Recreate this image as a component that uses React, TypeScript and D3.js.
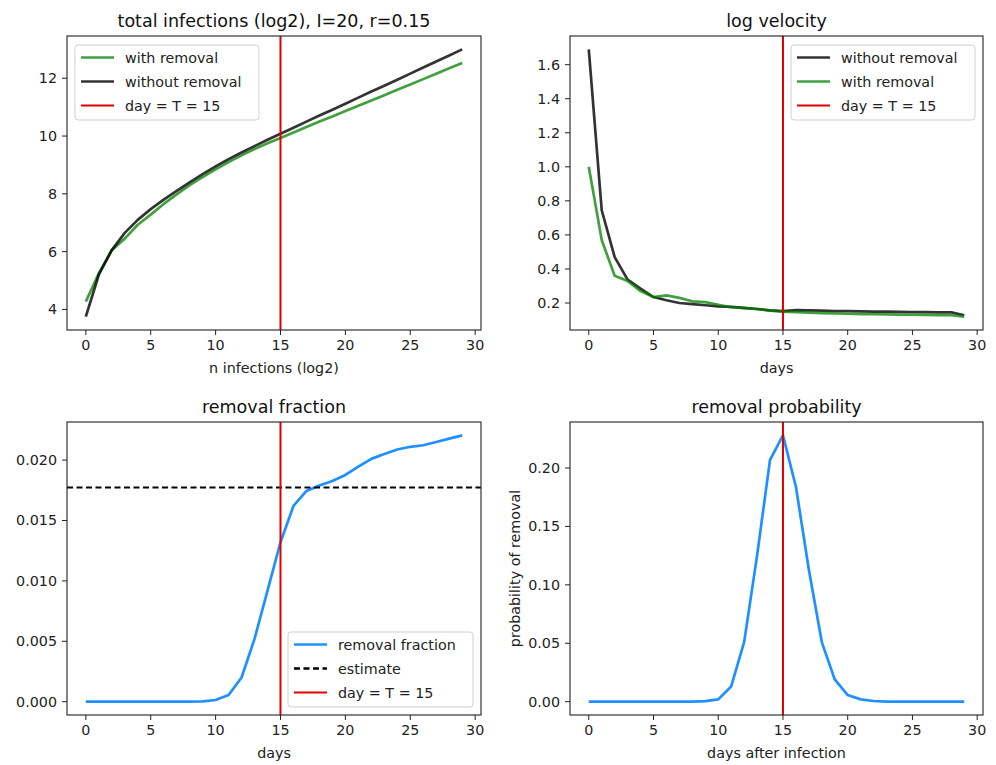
import React from "react";
import * as d3 from "d3";

const days = d3.range(0, 30);

const totalWith = [4.27, 5.25, 6.05, 6.45, 6.93, 7.28, 7.65, 7.98, 8.3, 8.58, 8.85, 9.1, 9.33, 9.55, 9.75, 9.93, 10.12, 10.31, 10.5, 10.68, 10.87, 11.05, 11.23, 11.41, 11.6, 11.78, 11.97, 12.16, 12.35, 12.53];
const totalWithout = [3.75, 5.2, 6.05, 6.65, 7.1, 7.47, 7.8, 8.1, 8.4, 8.68, 8.95, 9.2, 9.43, 9.65, 9.87, 10.08, 10.29, 10.5, 10.71, 10.91, 11.12, 11.33, 11.54, 11.74, 11.95, 12.16, 12.37, 12.58, 12.79, 13.0];

const velWithout = [1.69, 0.745, 0.47, 0.337, 0.284, 0.235, 0.216, 0.2, 0.193, 0.187, 0.18, 0.177, 0.172, 0.165, 0.157, 0.152, 0.158, 0.157, 0.155, 0.153, 0.152, 0.151, 0.15, 0.149, 0.148, 0.147, 0.146, 0.145, 0.145, 0.128];
const velWith = [1.0, 0.57, 0.36, 0.33, 0.27, 0.235, 0.245, 0.23, 0.21, 0.205, 0.19, 0.175, 0.17, 0.165, 0.155, 0.15, 0.146, 0.143, 0.141, 0.139, 0.137, 0.135, 0.134, 0.133, 0.132, 0.131, 0.13, 0.129, 0.128, 0.12];

const removalFraction = [0, 0, 0, 0, 0, 0, 0, 0, 0, 0.00003, 0.00014, 0.00055, 0.002, 0.0052, 0.0092, 0.0132, 0.0162, 0.01745, 0.0179, 0.01827, 0.01877, 0.01945, 0.0201, 0.0205, 0.02088, 0.0211, 0.02123, 0.0215, 0.02178, 0.02205];
const estimate = 0.01773;

const removalProb = [0, 0, 0, 0, 0, 0, 0, 0, 0, 0.0005, 0.002, 0.013, 0.051, 0.125, 0.207, 0.228, 0.184, 0.113, 0.051, 0.019, 0.0057, 0.002, 0.0006, 0, 0, 0, 0, 0, 0, 0];

const T = 15;
const xTicks = [0, 5, 10, 15, 20, 25, 30];
const ticksTL = [4, 6, 8, 10, 12];
const ticksTR = [0.2, 0.4, 0.6, 0.8, 1.0, 1.2, 1.4, 1.6];
const ticksBL = [0, 0.005, 0.01, 0.015, 0.02];
const ticksBR = [0, 0.05, 0.1, 0.15, 0.2];

const FONT = "DejaVu Sans, sans-serif";
const GREEN = "rgba(0,128,0,0.75)";
const BLACK = "rgba(0,0,0,0.8)";
const BLUE = "#1E90FF";
const RED = "#E00000";

type Series = { values: number[]; color: string; label: string; dash?: string; hline?: number };
type PanelProps = {
  x0: number; x1: number; y0: number; y1: number;
  title: string; xlabel: string; ylabel?: string;
  yTicks: number[]; yFmt: (v: number) => string;
  series: Series[];
  legend: { x: number; y: number; w: number; items: Series[] };
};

function withMargin(lo: number, hi: number): [number, number] {
  const m = (hi - lo) * 0.05;
  return [lo - m, hi + m];
}

function Panel(p: PanelProps) {
  const x = d3.scaleLinear().domain(withMargin(0, 29)).range([p.x0, p.x1]);
  const all = p.series.filter((s) => s.hline === undefined).flatMap((s) => s.values);
  const y = d3.scaleLinear().domain(withMargin(d3.min(all) as number, d3.max(all) as number)).range([p.y1, p.y0]);
  const line = d3.line<number>().x((_, i) => x(days[i])).y((v) => y(v));
  const clipId = `clip-${p.x0}-${p.y0}`;
  const fs = 14.3;
  return (
    <g>
      <defs>
        <clipPath id={clipId}>
          <rect x={p.x0} y={p.y0} width={p.x1 - p.x0} height={p.y1 - p.y0} />
        </clipPath>
      </defs>
      <g clipPath={`url(#${clipId})`}>
        {p.series.map((s, i) =>
          s.hline !== undefined ? (
            <line key={i} x1={p.x0} x2={p.x1} y1={y(s.hline)} y2={y(s.hline)} stroke={s.color} strokeWidth={2} strokeDasharray={s.dash} />
          ) : s.label.startsWith("day") ? (
            <line key={i} x1={x(T)} x2={x(T)} y1={p.y0} y2={p.y1} stroke={s.color} strokeWidth={2} />
          ) : (
            <path key={i} d={line(s.values) || ""} fill="none" stroke={s.color} strokeWidth={2.7} strokeLinejoin="round" strokeLinecap="butt" />
          )
        )}
      </g>
      <rect x={p.x0} y={p.y0} width={p.x1 - p.x0} height={p.y1 - p.y0} fill="none" stroke="#222" strokeWidth={1.1} />
      {xTicks.map((t) => (
        <g key={t}>
          <line x1={x(t)} x2={x(t)} y1={p.y1} y2={p.y1 + 5} stroke="#222" strokeWidth={1} />
          <text x={x(t)} y={p.y1 + 10} fontSize={fs} fontFamily={FONT} textAnchor="middle" dominantBaseline="hanging" fill="#222">{t}</text>
        </g>
      ))}
      {p.yTicks.map((t) => (
        <g key={t}>
          <line x1={p.x0 - 5} x2={p.x0} y1={y(t)} y2={y(t)} stroke="#222" strokeWidth={1} />
          <text x={p.x0 - 10} y={y(t)} fontSize={fs} fontFamily={FONT} textAnchor="end" dominantBaseline="central" fill="#222">{p.yFmt(t)}</text>
        </g>
      ))}
      <text x={(p.x0 + p.x1) / 2} y={p.y0 - 9} fontSize={17.5} fontFamily={FONT} textAnchor="middle" fill="#111">{p.title}</text>
      <text x={(p.x0 + p.x1) / 2} y={p.y1 + 43} fontSize={fs} fontFamily={FONT} textAnchor="middle" fill="#222">{p.xlabel}</text>
      {p.ylabel && (
        <text transform={`translate(${p.x0 - 55},${(p.y0 + p.y1) / 2}) rotate(-90)`} fontSize={fs} fontFamily={FONT} textAnchor="middle" dominantBaseline="central" fill="#222">{p.ylabel}</text>
      )}
      <g>
        <rect x={p.legend.x} y={p.legend.y} width={p.legend.w} height={75} rx={3} fill="rgba(255,255,255,0.85)" stroke="#d0d0d0" strokeWidth={1} />
        {p.legend.items.map((s, i) => {
          const cy = p.legend.y + 12.5 + i * 24;
          return (
            <g key={i}>
              <line x1={p.legend.x + 6} x2={p.legend.x + 39} y1={cy} y2={cy} stroke={s.color} strokeWidth={s.label.startsWith("day") ? 2 : 2.7} strokeDasharray={s.dash} />
              <text x={p.legend.x + 50} y={cy} fontSize={fs} fontFamily={FONT} dominantBaseline="central" fill="#222">{s.label}</text>
            </g>
          );
        })}
      </g>
    </g>
  );
}

export default function App() {
  const sWith: Series = { values: totalWith, color: GREEN, label: "with removal" };
  const sWithout: Series = { values: totalWithout, color: BLACK, label: "without removal" };
  const sDay: Series = { values: [], color: RED, label: "day = T = 15" };
  const vWithout: Series = { values: velWithout, color: BLACK, label: "without removal" };
  const vWith: Series = { values: velWith, color: GREEN, label: "with removal" };
  const rf: Series = { values: removalFraction, color: BLUE, label: "removal fraction" };
  const est: Series = { values: [], color: "#000", label: "estimate", dash: "6,3.5", hline: estimate };
  const rp: Series = { values: removalProb, color: BLUE, label: "" };
  return (
    <svg width={996} height={765} style={{ position: "absolute", left: 0, top: 0, background: "#fff" }}>
      <rect width={996} height={765} fill="#fff" />
      <Panel x0={67} x1={481} y0={36} y1={330} title="total infections (log2), I=20, r=0.15" xlabel="n infections (log2)"
        yTicks={ticksTL} yFmt={(v) => String(v)} series={[sWith, sWithout, sDay]}
        legend={{ x: 75, y: 45, w: 184, items: [sWith, sWithout, sDay] }} />
      <Panel x0={570} x1={983} y0={36} y1={330} title="log velocity" xlabel="days"
        yTicks={ticksTR} yFmt={(v) => v.toFixed(1)} series={[vWithout, vWith, sDay]}
        legend={{ x: 791, y: 45, w: 184, items: [vWithout, vWith, sDay] }} />
      <Panel x0={67} x1={481} y0={422} y1={715} title="removal fraction" xlabel="days"
        yTicks={ticksBL} yFmt={(v) => v.toFixed(3)} series={[rf, est, sDay]}
        legend={{ x: 288, y: 632, w: 185, items: [rf, est, sDay] }} />
      <Panel x0={570} x1={983} y0={422} y1={715} title="removal probability" xlabel="days after infection" ylabel="probability of removal"
        yTicks={ticksBR} yFmt={(v) => v.toFixed(2)} series={[rp, sDay]}
        legend={{ x: 0, y: 0, w: 0, items: [] }} />
    </svg>
  );
}
